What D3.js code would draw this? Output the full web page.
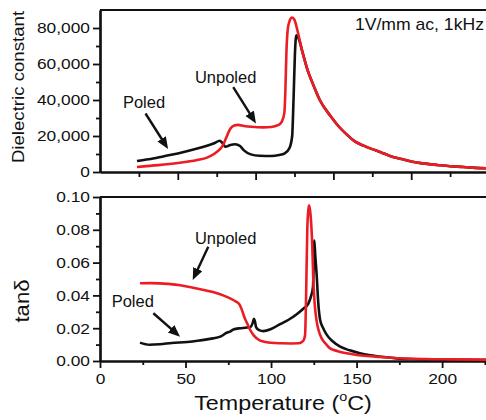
<!DOCTYPE html>
<html>
<head>
<meta charset="utf-8">
<script src="https://cdn.jsdelivr.net/npm/d3@7"></script>
<style>
  body { margin: 0; background: #fff; }
  svg text { font-family: "Liberation Sans", Arial, sans-serif; fill: #111; }
</style>
</head>
<body>
<svg id="chart"></svg>
<script>
// ---- data ----
// dielectric constant vs temperature (top panel)
const poledEps = [
  [19, 6100], [25, 7100], [33, 8800], [40, 10300], [50, 13000], [55, 14600], [59, 16100],
  [61.5, 17400], [63, 16000], [64.5, 14000], [67, 15000], [69.5, 15400], [72, 14400],
  [74, 12000], [77.5, 9800], [82, 9000], [88, 8900], [92, 9400], [95, 10400], [97.5, 13500],
  [98.8, 20000], [99.5, 40000], [100.2, 65000], [100.9, 76000], [102, 74500], [104, 67000],
  [106.6, 57000], [110, 47500], [113, 40000], [118.6, 31000], [123, 25000], [127.2, 20500],
  [131, 17000], [135.8, 14500], [139.2, 13000], [144.3, 11000], [149.5, 8800], [155, 7200],
  [160, 5800], [166, 4800], [173.5, 3900], [180, 3200], [187, 2800], [193, 2300], [200, 2000]
]
const unpoledEps = [
  [19, 2800], [30, 3800], [40, 5000], [50, 6700], [55, 8000], [58.6, 10000], [61, 12000],
  [63, 14500], [64.5, 18000], [65.5, 20600], [67, 24000], [69, 25800], [71, 26200], [74, 25600],
  [78, 25100], [84, 24800], [88, 25000], [91.5, 26000], [93.5, 28000], [94.8, 33000],
  [95.3, 45000], [95.8, 65000], [96.5, 79000], [97.5, 84000], [98.8, 85800], [100, 84500],
  [101.2, 80000], [102.5, 74000], [104, 67000], [106.6, 57000], [110, 47500], [113, 40000],
  [118.6, 31000], [123, 25000], [127.2, 20500], [131, 17000], [135.8, 14500], [139.2, 13000],
  [144.3, 11000], [149.5, 8800], [155, 7200], [160, 5800], [166, 4800], [173.5, 3900],
  [180, 3200], [187, 2800], [193, 2300], [200, 2000]
]
// loss tangent vs temperature (bottom panel)
const poledTan = [
  [23.4, 0.0112], [29, 0.0099], [35, 0.0102], [42, 0.0110], [51, 0.0116], [58, 0.0125],
  [66, 0.0138], [71, 0.0152], [74, 0.0172], [76, 0.0179], [78, 0.0192], [81.9, 0.0200],
  [85, 0.0203], [88, 0.0208], [89.5, 0.0240], [90, 0.0258], [90.6, 0.0240], [91.3, 0.0205],
  [93, 0.0188], [95.5, 0.0182], [100, 0.0195], [105.3, 0.0225], [110, 0.0250], [115, 0.0285],
  [119, 0.0320], [121.8, 0.0350], [123.5, 0.0400], [124.5, 0.0450], [125, 0.0600],
  [125.3, 0.0735], [125.8, 0.0650], [126.7, 0.0520], [127.5, 0.0370], [128.7, 0.0250],
  [130.5, 0.0200], [132.6, 0.0159], [136, 0.0120], [140.4, 0.0087], [146, 0.0065],
  [152, 0.0047], [158, 0.0035], [166, 0.0024], [173.5, 0.0016], [185, 0.0011],
  [200, 0.0008], [228, 0.0006]
]
const unpoledTan = [
  [23.4, 0.0474], [30, 0.0475], [40, 0.0470], [47, 0.0462], [55, 0.0445], [62, 0.0430],
  [67, 0.0418], [72, 0.0400], [76.4, 0.0380], [79.5, 0.0362], [81.5, 0.0345], [83, 0.0310],
  [84.3, 0.0270], [86, 0.0230], [87.5, 0.0195], [90, 0.0155], [93, 0.0128], [96, 0.0117],
  [100, 0.0111], [106, 0.0108], [112, 0.0107], [116, 0.0108], [117.9, 0.0115], [119.2, 0.0130],
  [119.9, 0.0160], [120.5, 0.0400], [121.2, 0.0810], [121.8, 0.0920], [122.2, 0.0950],
  [122.8, 0.0920], [123.4, 0.0850], [124.1, 0.0700], [124.7, 0.0500], [125.5, 0.0350],
  [126.7, 0.0240], [128, 0.0180], [129.6, 0.0138], [132, 0.0105], [134.5, 0.0077],
  [139, 0.0060], [144.3, 0.0047], [150, 0.0037], [156, 0.0030], [163.7, 0.0025],
  [175, 0.0017], [190, 0.0012], [205, 0.0010], [228, 0.0008]
]

const epsTicks = [0, 20000, 40000, 60000, 80000]
const epsMinor = [10000, 30000, 50000, 70000]
const topTempTicks = [40, 80, 120, 160]
const topTempMinor = [20, 60, 100, 140, 180]
const tanTicks = [0, 0.02, 0.04, 0.06, 0.08, 0.10]
const tanMinor = [0.01, 0.03, 0.05, 0.07, 0.09]
const tempTicks = [0, 50, 100, 150, 200]
const tempMinor = [25, 75, 125, 175, 225]

// annotations in data units
const topNotes = [
  { label: 'Poled', tx: 11.8, ty: 35600, from: [23.4, 32500], to: [35, 12800] },
  { label: 'Unpoled', tx: 48.8, ty: 49200, from: [68.5, 47200], to: [80.2, 27000] }
]
const bottomNotes = [
  { label: 'Unpoled', tx: 55.5, ty: 0.0716, from: [63.3, 0.0697], to: [54.2, 0.0494] },
  { label: 'Poled', tx: 6.8, ty: 0.0331, from: [31.2, 0.0291], to: [46.8, 0.0148] }
]

const RED = '#ec1c24'
const BLACK = '#111'
const K = 1.12   // horizontal stretch of the figure's lettering

const svg = d3.select('#chart').attr('width', 486).attr('height', 420)

svg.append('defs').append('marker')
    .attr('id', 'arrow')
    .attr('markerUnits', 'userSpaceOnUse')
    .attr('markerWidth', 14).attr('markerHeight', 12)
    .attr('refX', 12).attr('refY', 5)
    .attr('orient', 'auto')
  .append('path')
    .attr('d', 'M0,0 L12,5 L0,10 Z')
    .attr('fill', BLACK)

function stretchTicks(g) {
  g.selectAll('.tick text').each(function () {
    const t = d3.select(this)
    t.attr('x', (+t.attr('x') || 0) / K).attr('transform', `scale(${K},1)`)
  })
}

function panel(cfg) {
  const x = d3.scaleLinear().domain(cfg.xDomain).range([cfg.left, cfg.right])
  const y = d3.scaleLinear().domain(cfg.yDomain).range([cfg.bottom, cfg.top])
  const g = svg.append('g')

  // minor ticks
  g.append('g')
      .attr('transform', `translate(${cfg.left},0)`)
      .call(d3.axisLeft(y).tickValues(cfg.yMinor).tickSize(4).tickSizeOuter(0).tickFormat(''))
  g.append('g')
      .attr('transform', `translate(0,${cfg.bottom})`)
      .call(d3.axisBottom(x).tickValues(cfg.xMinor).tickSize(cfg.xMinorSize).tickSizeOuter(0).tickFormat(''))

  // major ticks + labels
  const ya = g.append('g')
      .attr('transform', `translate(${cfg.left},0)`)
      .call(d3.axisLeft(y).tickValues(cfg.yTicks).tickSize(7).tickPadding(3)
        .tickSizeOuter(0).tickFormat(cfg.yFormat))
  stretchTicks(ya)
  const xa = g.append('g')
      .attr('transform', `translate(0,${cfg.bottom})`)
      .call(d3.axisBottom(x).tickValues(cfg.xTicks).tickSize(cfg.xMajorSize).tickPadding(5)
        .tickSizeOuter(0).tickFormat(cfg.xFormat))
  stretchTicks(xa)

  g.selectAll('.tick line').attr('stroke', BLACK).attr('stroke-width', 1.8)
  g.selectAll('.domain').attr('stroke', BLACK).attr('stroke-width', 2.2)
  g.selectAll('.tick text').attr('font-size', 15.5).attr('fill', BLACK)

  // frame top + right
  g.append('path')
      .attr('d', `M${cfg.left},${cfg.top}H${cfg.right}V${cfg.bottom}`)
      .attr('fill', 'none').attr('stroke', BLACK).attr('stroke-width', 2.2)

  const line = d3.line()
      .x(d => x(d[0]))
      .y(d => y(d[1]))
      .curve(d3.curveMonotoneX)

  cfg.series.forEach(s => {
    g.append('path')
        .datum(s.data)
        .attr('fill', 'none')
        .attr('stroke', s.color)
        .attr('stroke-width', 2.6)
        .attr('stroke-linejoin', 'round')
        .attr('d', line)
  })

  cfg.notes.forEach(n => {
    g.append('text')
        .attr('x', x(n.tx)).attr('y', y(n.ty))
        .attr('font-size', 16.5)
        .text(n.label)
    const x1 = x(n.from[0]), y1 = y(n.from[1]), x2 = x(n.to[0]), y2 = y(n.to[1])
    const len = Math.hypot(x2 - x1, y2 - y1)
    const cut = 5 / len
    g.append('line')
        .attr('x1', x1).attr('y1', y1)
        .attr('x2', x2 - (x2 - x1) * cut).attr('y2', y2 - (y2 - y1) * cut)
        .attr('stroke', BLACK).attr('stroke-width', 2.4)
    g.append('line')
        .attr('x1', x2 - (x2 - x1) * cut * 1.1).attr('y1', y2 - (y2 - y1) * cut * 1.1)
        .attr('x2', x2).attr('y2', y2)
        .attr('stroke', 'none')
        .attr('marker-end', 'url(#arrow)')
  })

  return { x, y, g }
}

const topPanel = panel({
  left: 100, right: 489, top: 10, bottom: 172,
  xDomain: [0, 200], yDomain: [0, 90000],
  xTicks: topTempTicks, xMinor: topTempMinor, xFormat: '', xMajorSize: 8, xMinorSize: 5,
  yTicks: epsTicks, yMinor: epsMinor, yFormat: d3.format(','),
  series: [{ data: poledEps, color: BLACK }, { data: unpoledEps, color: RED }],
  notes: topNotes
})

const bottomPanel = panel({
  left: 100, right: 490, top: 197, bottom: 361,
  xDomain: [0, 228], yDomain: [0, 0.1],
  xTicks: tempTicks, xMinor: tempMinor, xFormat: d3.format('d'), xMajorSize: 7, xMinorSize: 4,
  yTicks: tanTicks, yMinor: tanMinor, yFormat: d3.format('.2f'),
  series: [{ data: poledTan, color: BLACK }, { data: unpoledTan, color: RED }],
  notes: bottomNotes
})

// condition label
svg.append('text')
    .attr('transform', `translate(${topPanel.x(131.1)},${topPanel.y(78900)}) scale(1.1,1)`)
    .attr('font-size', 16)
    .text('1V/mm ac, 1kHz')

// axis titles
svg.append('text')
    .attr('transform', `translate(23.5,87) rotate(-90) scale(1.13,1)`)
    .attr('text-anchor', 'middle')
    .attr('font-size', 16.5)
    .text('Dielectric constant')

svg.append('text')
    .attr('transform', `translate(28.5,301) rotate(-90) scale(1.08,1)`)
    .attr('text-anchor', 'middle')
    .attr('font-size', 20.5)
    .text('tanδ')

const xt = svg.append('text')
    .attr('transform', `translate(283,410) scale(1.11,1)`)
    .attr('text-anchor', 'middle')
    .attr('font-size', 21)
xt.append('tspan').text('Temperature (')
xt.append('tspan').attr('font-size', 13).attr('dy', -9).text('o')
xt.append('tspan').attr('dy', 9).text('C)')
</script>
</body>
</html>
